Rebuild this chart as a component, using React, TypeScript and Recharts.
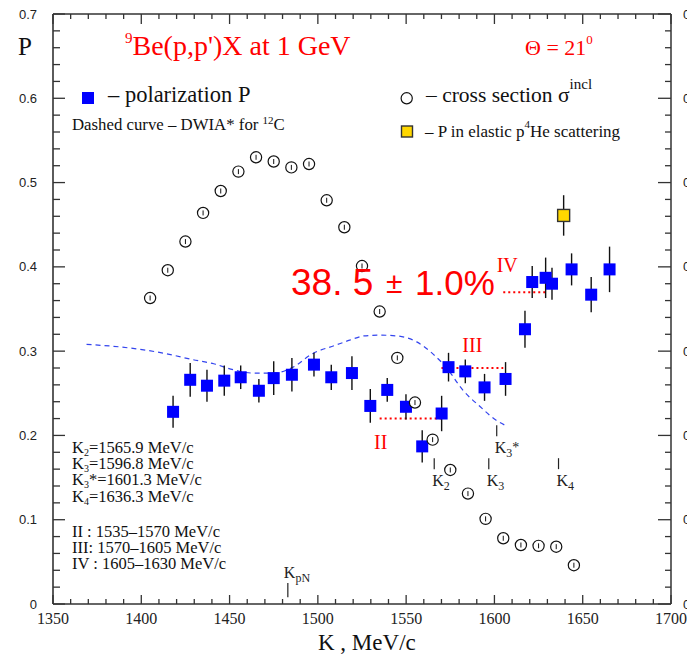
import React from 'react';
import { ComposedChart, XAxis, YAxis, Scatter, Line, ErrorBar, ReferenceLine } from 'recharts';

// ---------- data ----------
const polK = [1418, 1427.7, 1437.2, 1447, 1456.3, 1466.6, 1475, 1485.3, 1497.8, 1507.6, 1519.3, 1529.7, 1539.3, 1549.9, 1559.1, 1570.1, 1574, 1583.5, 1594.4, 1606.3, 1617.3, 1621.4, 1629, 1632.6, 1643.7, 1654.8, 1665.2];
const polP = [0.228, 0.266, 0.259, 0.265, 0.269, 0.253, 0.268, 0.272, 0.284, 0.269, 0.274, 0.235, 0.254, 0.234, 0.187, 0.226, 0.281, 0.276, 0.257, 0.267, 0.326, 0.382, 0.387, 0.380, 0.397, 0.367, 0.397];
const polErr = [0.019, 0.020, 0.019, 0.018, 0.014, 0.014, 0.020, 0.020, 0.014, 0.015, 0.020, 0.020, 0.014, 0.015, 0.019, 0.021, 0.017, 0.014, 0.016, 0.020, 0.022, 0.019, 0.024, 0.019, 0.019, 0.021, 0.027];

const csK = [1405, 1415, 1425, 1435, 1445, 1455, 1465, 1475, 1485, 1495, 1505, 1515, 1525, 1535, 1545, 1555, 1565, 1575, 1585, 1595, 1605, 1615, 1625, 1635, 1645];
const csVal = [0.363, 0.396, 0.430, 0.464, 0.490, 0.513, 0.530, 0.525, 0.518, 0.522, 0.479, 0.447, 0.401, 0.347, 0.292, 0.239, 0.195, 0.159, 0.131, 0.101, 0.078, 0.070, 0.069, 0.068, 0.046];

const heK = [1639.2];
const heP = [0.461];
const heErr = [0.024];

const dwiaK = [1369, 1388, 1403, 1414, 1429, 1441, 1452, 1463, 1475, 1486, 1497, 1510, 1518, 1526, 1535, 1545, 1556, 1565, 1573, 1582, 1592, 1601, 1607];
const dwiaP = [0.308, 0.305, 0.301, 0.297, 0.290, 0.285, 0.278, 0.274, 0.274, 0.281, 0.297, 0.307, 0.313, 0.318, 0.319, 0.318, 0.311, 0.297, 0.280, 0.254, 0.234, 0.218, 0.211];

const regions = [
  { name: 'II', from: 1535, to: 1570, p: 0.22 },
  { name: 'III', from: 1570, to: 1605, p: 0.28 },
  { name: 'IV', from: 1605, to: 1630, p: 0.37 },
];

const markers = [
  { name: 'K', sub: '2', sup: '', k: 1565.9, p0: 0.160, p1: 0.173, pos: 'below' },
  { name: 'K', sub: '3', sup: '', k: 1596.8, p0: 0.160, p1: 0.173, pos: 'below' },
  { name: 'K', sub: '3', sup: '*', k: 1601.3, p0: 0.199, p1: 0.212, pos: 'below' },
  { name: 'K', sub: '4', sup: '', k: 1636.3, p0: 0.160, p1: 0.173, pos: 'below' },
  { name: 'K', sub: 'pN', sup: '', k: 1483, p0: 0.008, p1: 0.025, pos: 'above' },
];

const infoLines = [
  { k: 'K', sub: '2', rest: '=1565.9 MeV/c' },
  { k: 'K', sub: '3', rest: '=1596.8 MeV/c' },
  { k: 'K', sub: '3', rest: '*=1601.3 MeV/c' },
  { k: 'K', sub: '4', rest: '=1636.3 MeV/c' },
];
const rangeLines = ['II : 1535–1570 MeV/c', 'III: 1570–1605 MeV/c', 'IV : 1605–1630 MeV/c'];

const xMajorTicks = [1350, 1400, 1450, 1500, 1550, 1600, 1650, 1700];
const yMajorTicks = [0, 0.1, 0.2, 0.3, 0.4, 0.5, 0.6, 0.7];
const xTicks: number[] = [];
for (let v = 1350; v <= 1700; v += 10) xTicks.push(v);
const yTicks: number[] = [];
for (let i = 0; i <= 35; i++) yTicks.push(+(i * 0.02).toFixed(2));

const polData = polK.map((x, i) => ({ x, y: polP[i], e: polErr[i] }));
const csData = csK.map((x, i) => ({ x, y: csVal[i] }));
const heData = heK.map((x, i) => ({ x, y: heP[i], e: heErr[i] }));
const dwiaData = dwiaK.map((x, i) => ({ x, y: dwiaP[i] }));

// ---------- styles ----------
const SERIF = '"Liberation Serif", "Times New Roman", serif';
const SANS = '"Liberation Sans", Arial, sans-serif';
const AX = '#333';
const RED = '#ff0000';
const BLUE = '#0000ff';

const isYMajor = (v: number) => yMajorTicks.some((m) => Math.abs(m - v) < 1e-6);
const isXMajor = (v: number) => xMajorTicks.includes(v);

const BottomTick = (props: any) => {
  const { x, y, payload } = props;
  const major = isXMajor(payload.value);
  return (
    <g>
      <line x1={x} x2={x} y1={y} y2={y - (major ? 9 : 5)} stroke={AX} strokeWidth={1.3} />
      {major && (
        <text x={x} y={y + 20} textAnchor="middle" fontFamily={SERIF} fontSize={16} fill="#222">
          {payload.value}
        </text>
      )}
    </g>
  );
};

const TopTick = (props: any) => {
  const { x, y, payload } = props;
  const major = isXMajor(payload.value);
  return <line x1={x} x2={x} y1={y} y2={y + (major ? 10 : 5)} stroke={AX} strokeWidth={1.3} />;
};

const fmtY = (v: number) => (Math.abs(v) < 1e-9 ? '0' : (Math.round(v * 10) / 10).toString());

const LeftTick = (props: any) => {
  const { x, y, payload } = props;
  const major = isYMajor(payload.value);
  return (
    <g>
      <line x1={x} x2={x + (major ? 12 : 7)} y1={y} y2={y} stroke={AX} strokeWidth={1.3} />
      {major && (
        <text x={x - 16} y={y + 4.5} textAnchor="end" fontFamily={SANS} fontSize={13} fill="#222">
          {fmtY(payload.value)}
        </text>
      )}
    </g>
  );
};

const RightTick = (props: any) => {
  const { x, y, payload } = props;
  const major = isYMajor(payload.value);
  return (
    <g>
      <line x1={x} x2={x - (major ? 13 : 6)} y1={y} y2={y} stroke={AX} strokeWidth={1.3} />
      {major && (
        <text x={x + 12} y={y + 4.5} textAnchor="start" fontFamily={SANS} fontSize={13} fill="#222">
          {fmtY(payload.value)}
        </text>
      )}
    </g>
  );
};

const BlueSquare = (p: any) => <rect x={p.cx - 6} y={p.cy - 6} width={12} height={12} fill={BLUE} />;
const YellowSquare = (p: any) => (
  <rect x={p.cx - 6} y={p.cy - 6} width={12} height={12} fill="#ffd700" stroke="#333" strokeWidth={1.4} />
);
const OpenCircle = (p: any) => (
  <g>
    <circle cx={p.cx} cy={p.cy} r={5.6} fill="#fff" stroke="#111" strokeWidth={1.2} />
    <line x1={p.cx} x2={p.cx} y1={p.cy - 2.5} y2={p.cy + 2.5} stroke="#111" strokeWidth={1} />
  </g>
);

const regionLabel = (name: string) => (props: any) => {
  const vb = props.viewBox || {};
  const { x = 0, y = 0, width = 0 } = vb;
  let tx = x + 1;
  let ty = y + 30;
  if (name === 'III') {
    tx = x + width / 2;
    ty = y - 16;
  } else if (name === 'IV') {
    tx = x + 4;
    ty = y - 20;
  }
  return (
    <text x={tx} y={ty} textAnchor="middle" fontFamily={SERIF} fontSize={20} fill={RED}>
      {name}
    </text>
  );
};

const markerLabel = (m: any) => (props: any) => {
  const vb = props.viewBox || {};
  const { x = 0, y = 0, height = 0 } = vb;
  const tx = m.pos === 'above' ? x - 4 : x - 2;
  const ty = m.pos === 'above' ? y - 5 : y + height + 17;
  return (
    <text x={tx} y={ty} fontFamily={SERIF} fontSize={16} fill="#222">
      {m.name}
      <tspan fontSize={12} dy={4}>{m.sub}</tspan>
      {m.sup && <tspan fontSize={14} dy={-5}>{m.sup}</tspan>}
    </text>
  );
};

export default function App() {
  return (
    <div style={{ position: 'absolute', left: 0, top: 0, width: 687, height: 664, background: '#fff' }}>
      <ComposedChart width={687} height={664} margin={{ top: 0, right: 0, bottom: 0, left: 0 }}>
        <XAxis
          xAxisId="bottom"
          dataKey="x"
          type="number"
          domain={[1350, 1700]}
          ticks={xTicks}
          interval={0}
          height={60}
          tickSize={0}
          tickMargin={0}
          tickLine={false}
          tick={<BottomTick />}
          axisLine={{ stroke: AX, strokeWidth: 1.6 }}
          allowDataOverflow
        />
        <XAxis
          xAxisId="top"
          orientation="top"
          dataKey="x"
          type="number"
          domain={[1350, 1700]}
          ticks={xTicks}
          interval={0}
          height={14}
          tickSize={0}
          tickMargin={0}
          tickLine={false}
          tick={<TopTick />}
          axisLine={{ stroke: AX, strokeWidth: 1.6 }}
          allowDataOverflow
        />
        <YAxis
          yAxisId="left"
          dataKey="y"
          type="number"
          domain={[0, 0.7]}
          ticks={yTicks}
          interval={0}
          width={53}
          tickSize={0}
          tickMargin={0}
          tickLine={false}
          tick={<LeftTick />}
          axisLine={{ stroke: AX, strokeWidth: 1.6 }}
          allowDataOverflow
        />
        <YAxis
          yAxisId="right"
          orientation="right"
          dataKey="y"
          type="number"
          domain={[0, 0.7]}
          ticks={yTicks}
          interval={0}
          width={16}
          tickSize={0}
          tickMargin={0}
          tickLine={false}
          tick={<RightTick />}
          axisLine={{ stroke: '#555', strokeWidth: 1.8 }}
          allowDataOverflow
        />

        <Line
          xAxisId="bottom"
          yAxisId="left"
          data={dwiaData}
          dataKey="y"
          type="monotone"
          stroke="#3344ee"
          strokeWidth={1.2}
          strokeDasharray="5 4"
          dot={false}
          activeDot={false}
          isAnimationActive={false}
        />

        {regions.map((r) => (
          <ReferenceLine
            key={r.name}
            xAxisId="bottom"
            yAxisId="left"
            segment={[{ x: r.from, y: r.p }, { x: r.to, y: r.p }]}
            stroke={RED}
            strokeWidth={2}
            strokeDasharray="2 3"
            label={regionLabel(r.name)}
          />
        ))}

        {markers.map((m, i) => (
          <ReferenceLine
            key={'m' + i}
            xAxisId="bottom"
            yAxisId="left"
            segment={[{ x: m.k, y: m.p1 }, { x: m.k, y: m.p0 }]}
            stroke="#222"
            strokeWidth={1.2}
            label={markerLabel(m)}
          />
        ))}

        <Scatter
          xAxisId="bottom"
          yAxisId="left"
          data={polData}
          dataKey="y"
          shape={<BlueSquare />}
          isAnimationActive={false}
        >
          <ErrorBar dataKey="e" direction="y" width={0} stroke="#111" strokeWidth={1.4} />
        </Scatter>

        <Scatter
          xAxisId="bottom"
          yAxisId="left"
          data={heData}
          dataKey="y"
          shape={<YellowSquare />}
          isAnimationActive={false}
        >
          <ErrorBar dataKey="e" direction="y" width={0} stroke="#111" strokeWidth={1.4} />
        </Scatter>

        <Scatter
          xAxisId="bottom"
          yAxisId="left"
          data={csData}
          dataKey="y"
          shape={<OpenCircle />}
          isAnimationActive={false}
        />
      </ComposedChart>

      <svg
        width={687}
        height={664}
        style={{ position: 'absolute', left: 0, top: 0, pointerEvents: 'none' }}
      >
        <text x={18} y={55} fontFamily={SERIF} fontSize={25} fill="#111">P</text>
        <text x={125} y={55} fontFamily={SERIF} fontSize={28} fill={RED}>
          <tspan fontSize={15} dy={-12}>9</tspan>
          <tspan dy={12}>Be(p,p')X at 1 GeV</tspan>
        </text>
        <text x={525} y={55} fontFamily={SERIF} fontSize={22} fill={RED}>
          Θ = 21<tspan fontSize={13} dy={-11}>0</tspan>
        </text>

        <rect x={82} y={92} width={12} height={12} fill={BLUE} />
        <text x={108} y={102} fontFamily={SERIF} fontSize={22.5} fill="#111">– polarization P</text>

        <circle cx={406.7} cy={98.3} r={5.6} fill="#fff" stroke="#111" strokeWidth={1.2} />
        <text x={426} y={102} fontFamily={SERIF} fontSize={21.5} fill="#111">
          – cross section σ<tspan fontSize={15} dy={-13}>incl</tspan>
        </text>

        <text x={72} y={130} fontFamily={SERIF} fontSize={16.8} fill="#111">
          Dashed curve – DWIA* for <tspan fontSize={11} dy={-6}>12</tspan>
          <tspan dy={6}>C</tspan>
        </text>

        <rect x={401.5} y={126} width={11} height={11} fill="#ffd700" stroke="#333" strokeWidth={1.4} />
        <text x={425} y={137} fontFamily={SERIF} fontSize={17} fill="#111">
          – P in elastic  p<tspan fontSize={11} dy={-9}>4</tspan>
          <tspan dy={9}>He scattering</tspan>
        </text>

        <text x={291} y={295} fontFamily={SANS} fontSize={37} fill={RED}>38. 5</text>
        <text x={386} y={293} fontFamily={SANS} fontSize={30} fill={RED}>±</text>
        <text x={415} y={295} fontFamily={SANS} fontSize={35} fill={RED}>1.0%</text>

        <g fontFamily={SERIF} fontSize={16.5} fill="#111">
          {infoLines.map((l, i) => (
            <text key={'k' + i} x={72} y={[453, 469, 485, 501.5][i]}>
              {l.k}
              <tspan fontSize={10} dy={3}>{l.sub}</tspan>
              <tspan dy={-3}>{l.rest}</tspan>
            </text>
          ))}
          {rangeLines.map((l, i) => (
            <text key={'r' + i} x={72} y={537 + 16 * i}>{l}</text>
          ))}
        </g>

        <text x={318} y={650} fontFamily={SERIF} fontSize={23} fill="#111">K , MeV/c</text>
      </svg>
    </div>
  );
}
